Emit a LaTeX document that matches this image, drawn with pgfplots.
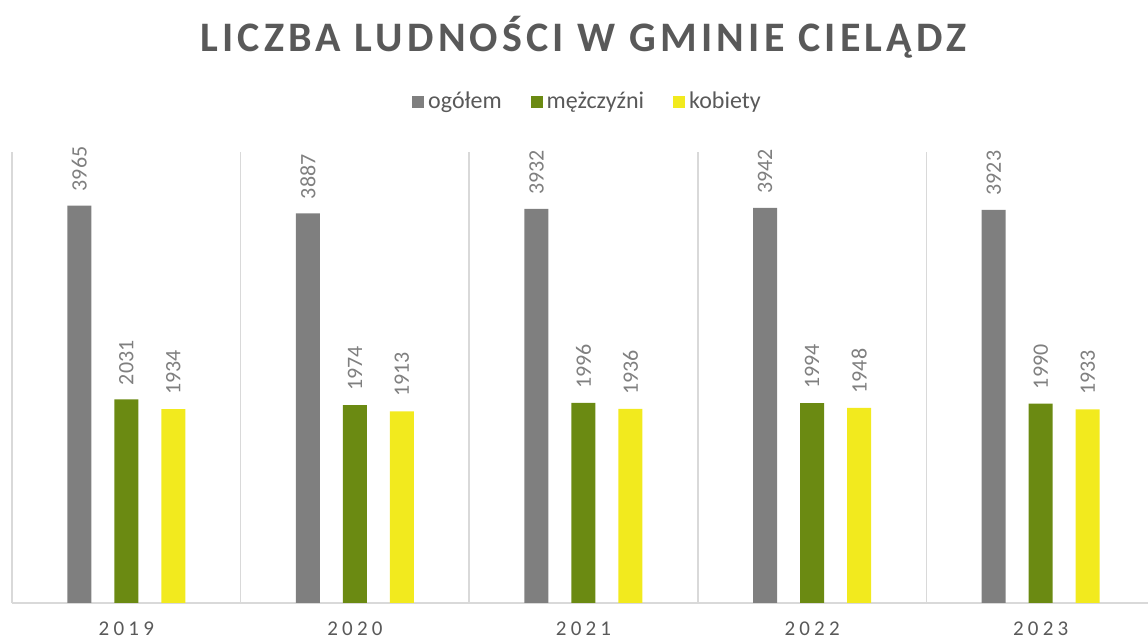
\documentclass[border=0pt]{standalone}
\usepackage{pgfplots}
\pgfplotsset{compat=1.18}
\usepackage{fontspec}
\setmainfont{Carlito}
\newfontfamily\tickfont{Carlito}[LetterSpace=20]
\newfontfamily\titlefont{Carlito}[LetterSpace=10]
\definecolor{cgray}{RGB}{127,127,127}
\definecolor{cgreen}{RGB}{107,138,18}
\definecolor{cyellow}{RGB}{242,234,30}
\definecolor{txt}{RGB}{89,89,89}
\definecolor{labgray}{RGB}{127,127,127}
\definecolor{gridc}{RGB}{217,217,217}
\begin{document}
\begin{tikzpicture}
\useasboundingbox (-6pt,-18.5pt) rectangle (568pt,301.5pt);
\begin{axis}[
  at={(0,0)}, anchor=south west,
  scale only axis, width=571.5pt, height=225.5pt,
  ybar=11.5pt, bar width=12pt,
  xmin=-0.5, xmax=4.5, ymin=0, ymax=4500,
  xtick={0,1,2,3,4}, xticklabels={2019,2020,2021,2022,2023},
  minor xtick={-0.5,0.5,1.5,2.5,3.5,4.5},
  xminorgrids, minor grid style={draw=gridc, line width=0.75pt},
  axis x line*=bottom, axis y line=none,
  x axis line style={draw=gridc, line width=0.75pt, -},
  major tick length=0pt, minor tick length=0pt,
  xticklabel style={font=\tickfont\fontsize{10.5}{12}\selectfont, text=txt, yshift=-6pt},
  ytick=\empty,
  /pgf/number format/1000 sep={},
  /pgf/number format/assume math mode=true,
  title={LICZBA LUDNOŚCI W GMINIE CIELĄDZ},
  title style={at={(0.5,1)}, anchor=center, yshift=51.5pt, font=\titlefont\bfseries\fontsize{21}{24}\selectfont, text=txt},
  legend style={at={(0.5,1)}, anchor=center, xshift=2.5pt, yshift=25pt, draw=none, fill=none,
    font=\fontsize{12}{14}\selectfont, text=txt,
    /tikz/every even column/.append style={column sep=12.5pt}},
  legend columns=-1,
  legend image code/.code={\path[#1,draw=none] (0pt,-3pt) rectangle (6pt,3pt);},
  nodes near coords,
  every node near coord/.append style={rotate=90, anchor=west, font=\fontsize{11}{12}\selectfont, text=labgray, inner xsep=7pt},
]
\addplot[fill=cgray, draw=none] coordinates {(0,3965) (1,3887) (2,3932) (3,3942) (4,3923)};
\addplot[fill=cgreen, draw=none] coordinates {(0,2031) (1,1974) (2,1996) (3,1994) (4,1990)};
\addplot[fill=cyellow, draw=none] coordinates {(0,1934) (1,1913) (2,1936) (3,1948) (4,1933)};
\legend{ogółem, mężczyźni, kobiety}
\end{axis}
\end{tikzpicture}
\end{document}
